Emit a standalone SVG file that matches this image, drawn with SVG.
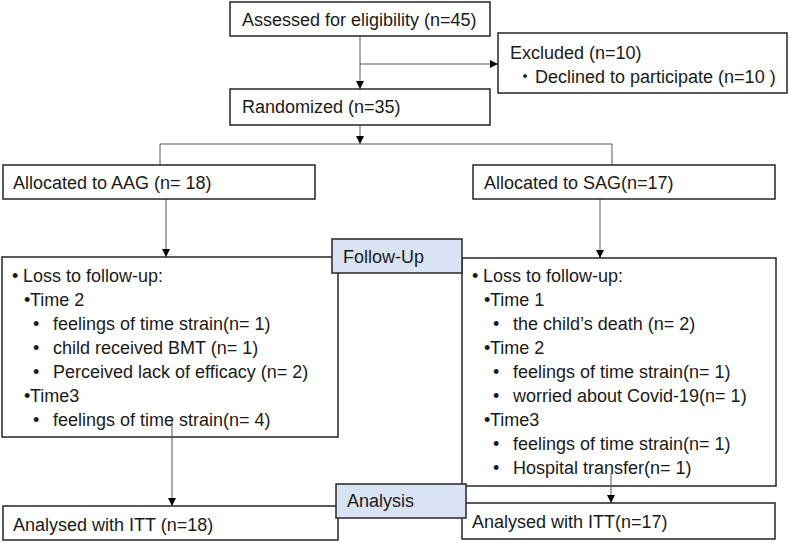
<svg xmlns="http://www.w3.org/2000/svg" width="790" height="543" viewBox="0 0 790 543">
<defs>
<marker id="ah" markerWidth="8" markerHeight="8" refX="8" refY="4" orient="auto" markerUnits="userSpaceOnUse">
<path d="M0,0 L8,4 L0,8 Z" fill="#000"/>
</marker>
<style>
.box{fill:#fff;stroke:#262626;stroke-width:1.5}
.lab{fill:#dae3f3;stroke:#262626;stroke-width:1.5}
.ln{fill:none;stroke:#595959;stroke-width:1}
.arr{fill:none;stroke:#595959;stroke-width:1;marker-end:url(#ah)}
text{font-family:"Liberation Sans","Noto Sans CJK JP",sans-serif;font-size:18px;fill:#1a1a1a}
</style>
</defs>
<rect width="790" height="543" fill="#fff"/>
<g id="connectors">
<path class="arr" d="M360,36 V89"/>
<path class="arr" d="M360,64 H498"/>
<path class="arr" d="M360,125 V144"/>
<path class="ln" d="M160,165 V144 H612 V165"/>
<path class="arr" d="M166,199 V257"/>
<path class="arr" d="M600,199 V258"/>
</g>
<g id="assessed">
<rect class="box" x="230" y="2" width="260" height="34"/>
<text x="242" y="26">Assessed for eligibility (n=45)</text>
</g>
<g id="excluded">
<rect class="box" x="498" y="33" width="289" height="60"/>
<text x="510" y="59">Excluded (n=10)</text>
<text x="516" y="83">・<tspan x="535">Declined to participate (n=10 )</tspan></text>
</g>
<g id="randomized">
<rect class="box" x="230" y="89" width="260" height="36"/>
<text x="242" y="113">Randomized (n=35)</text>
</g>
<g id="aag">
<rect class="box" x="3" y="165" width="312" height="34"/>
<text x="13" y="189">Allocated to AAG (n= 18)</text>
</g>
<g id="sag">
<rect class="box" x="473" y="165" width="302" height="34"/>
<text x="484" y="189">Allocated to SAG(n=17)</text>
</g>
<g id="followup-aag">
<rect class="box" x="2" y="257" width="336" height="180"/>
<text x="12" y="282">•<tspan x="23">Loss to follow-up:</tspan></text>
<text x="24" y="306">•<tspan x="30">Time 2</tspan></text>
<text x="33" y="330">•<tspan x="53">feelings of time strain(n= 1)</tspan></text>
<text x="33" y="354">•<tspan x="53">child received BMT (n= 1)</tspan></text>
<text x="33" y="378">•<tspan x="53">Perceived lack of efficacy (n= 2)</tspan></text>
<text x="24" y="402">•<tspan x="30">Time3</tspan></text>
<text x="33" y="426">•<tspan x="53">feelings of time strain(n= 4)</tspan></text>
</g>
<g id="followup-sag">
<rect class="box" x="462" y="258" width="314" height="228"/>
<text x="472" y="282">•<tspan x="483">Loss to follow-up:</tspan></text>
<text x="484" y="306">•<tspan x="490">Time 1</tspan></text>
<text x="493" y="330">•<tspan x="513">the child’s death (n= 2)</tspan></text>
<text x="484" y="354">•<tspan x="490">Time 2</tspan></text>
<text x="493" y="378">•<tspan x="513">feelings of time strain(n= 1)</tspan></text>
<text x="493" y="402">•<tspan x="513">worried about Covid-19(n= 1)</tspan></text>
<text x="484" y="426">•<tspan x="490">Time3</tspan></text>
<text x="493" y="450">•<tspan x="513">feelings of time strain(n= 1)</tspan></text>
<text x="493" y="474">•<tspan x="513">Hospital transfer(n= 1)</tspan></text>
</g>
<g id="analysed-aag">
<rect class="box" x="3" y="506" width="335" height="34"/>
<text x="13" y="531">Analysed with ITT (n=18)</text>
</g>
<g id="analysed-sag">
<rect class="box" x="462" y="503" width="313" height="36"/>
<text x="472" y="528">Analysed with ITT(n=17)</text>
</g>
<g id="connectors-lower">
<path class="arr" d="M172,421 V506"/>
<path class="arr" d="M611,473 V503"/>
</g>
<g id="follow-up-label">
<rect class="lab" x="332" y="239" width="130" height="34"/>
<text x="343" y="263">Follow-Up</text>
</g>
<g id="analysis-label">
<rect class="lab" x="336" y="484" width="130" height="34"/>
<text x="347" y="507">Analysis</text>
</g>
</svg>
